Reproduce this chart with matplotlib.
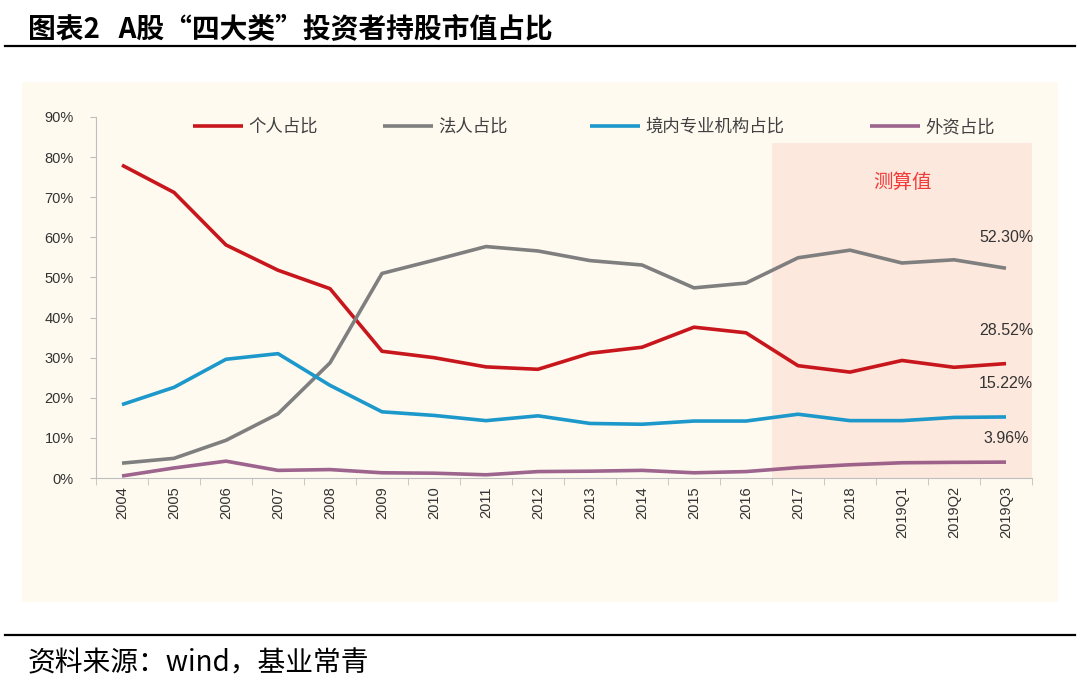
import numpy as np
import matplotlib
matplotlib.use("Agg")
import matplotlib.pyplot as plt
from matplotlib.patches import Rectangle
from matplotlib.lines import Line2D
from matplotlib.legend import Legend

plt.rcParams['font.family'] = ['Noto Sans CJK SC', 'DejaVu Sans']

categories = ['2004', '2005', '2006', '2007', '2008', '2009', '2010', '2011', '2012',
              '2013', '2014', '2015', '2016', '2017', '2018', '2019Q1', '2019Q2', '2019Q3']

individual = [78.0, 71.2, 58.1, 51.8, 47.2, 31.6, 30.0, 27.7, 27.1,
              31.1, 32.6, 37.6, 36.2, 28.0, 26.4, 29.3, 27.6, 28.52]
corporate = [3.7, 4.9, 9.4, 16.0, 28.7, 51.0, 54.3, 57.7, 56.6,
             54.2, 53.1, 47.4, 48.6, 54.9, 56.8, 53.6, 54.4, 52.30]
domestic_inst = [18.3, 22.6, 29.6, 31.0, 23.1, 16.5, 15.6, 14.3, 15.5,
                 13.6, 13.4, 14.2, 14.2, 15.9, 14.3, 14.3, 15.1, 15.22]
foreign = [0.5, 2.5, 4.2, 1.9, 2.1, 1.3, 1.2, 0.8, 1.6,
           1.7, 1.9, 1.3, 1.6, 2.6, 3.3, 3.8, 3.9, 3.96]

series_names = ['个人占比', '法人占比', '境内专业机构占比', '外资占比']
series_colors = ['#C8161D', '#7F7F7F', '#1C98CB', '#8C4A7C']
end_labels = ['28.52%', '52.30%', '15.22%', '3.96%']
label_offsets = [24, 22, 24, 17]

fig = plt.figure(figsize=(10.8, 6.96), dpi=100)

# cream panel behind the chart
fig.patches.append(Rectangle((22 / 1080, 1 - 602 / 696), (1058 - 22) / 1080, (602 - 82) / 696,
                             transform=fig.transFigure, facecolor='#FEFAF0', edgecolor='none', zorder=-5))
# header / footer rules
fig.add_artist(Line2D([5 / 1080, 1075 / 1080], [1 - 46 / 696] * 2, color='black', lw=1.6))
fig.add_artist(Line2D([5 / 1080, 1075 / 1080], [1 - 635 / 696] * 2, color='black', lw=1.6))

fig.text(28 / 1080, 1 - 30 / 696, '图表2   A股“四大类”投资者持股市值占比', fontsize=20,
         fontweight='bold', va='center', ha='left', color='black')
fig.text(28 / 1080, 1 - 663 / 696, '资料来源：wind，基业常青', fontsize=20,
         va='center', ha='left', color='black')

ax = fig.add_axes([96 / 1080, 1 - 478 / 696, (1032 - 96) / 1080, (478 - 117) / 696])
ax.set_facecolor('none')
ax.set_zorder(2)

x = np.arange(len(categories))
ax.axvspan(12.5, 17.55, ymin=0, ymax=83.5 / 90, facecolor='#FCE8DC', edgecolor='none', zorder=0)
ax.text(15, 73.6, '测算值', color='#F23A3A', fontsize=14, ha='center', va='center')

all_series = [individual, corporate, domestic_inst, foreign]
handles = []
for vals, name, col in zip(all_series, series_names, series_colors):
    alpha = 0.85 if name == '外资占比' else 1.0
    ln, = ax.plot(x, vals, color=col, lw=2.6, alpha=alpha, label=name, solid_capstyle='butt', zorder=3)
    handles.append(ln)

for vals, lab, off in zip(all_series, end_labels, label_offsets):
    ax.annotate(lab, (x[-1], vals[-1]), xytext=(0, off), textcoords='offset points',
                ha='center', va='center', fontsize=11.5, color='#333333',
                family=['Liberation Sans', 'DejaVu Sans'])

ax.set_xlim(-0.5, 17.5)
ax.set_ylim(0, 90)
ax.set_yticks(np.arange(0, 91, 10))
ax.set_yticklabels([f'{v}%' for v in range(0, 91, 10)],
                   family=['Liberation Sans', 'DejaVu Sans'], fontsize=10.5, color='#333333')
ax.set_xticks(x)
ax.set_xticklabels(categories, rotation=90, family=['Liberation Sans', 'DejaVu Sans'],
                   fontsize=10.5, color='#333333')
ax.set_xticks(np.arange(-0.5, 18, 1), minor=True)
ax.tick_params(axis='x', which='major', length=0, pad=6)
ax.tick_params(axis='x', which='minor', length=5, color='#BFBFBF')
ax.tick_params(axis='y', length=4, color='#BFBFBF', pad=12)
for s in ['top', 'right']:
    ax.spines[s].set_visible(False)
for s in ['left', 'bottom']:
    ax.spines[s].set_color('#BFBFBF')

# legend entries placed individually to follow the original spacing
legend_x = [(193 - 96) / 936, (383 - 96) / 936, (590 - 96) / 936, (870 - 96) / 936]
for h, name, lx in zip(handles, series_names, legend_x):
    leg = Legend(ax, [h], [name], loc='center left', bbox_to_anchor=(lx, 0.972),
                 frameon=False, fontsize=12.5, handlelength=2.9, handletextpad=0.3,
                 borderaxespad=0, borderpad=0, labelcolor='#404040')
    ax.add_artist(leg)

fig.savefig('out.png', dpi=100, facecolor='white')
